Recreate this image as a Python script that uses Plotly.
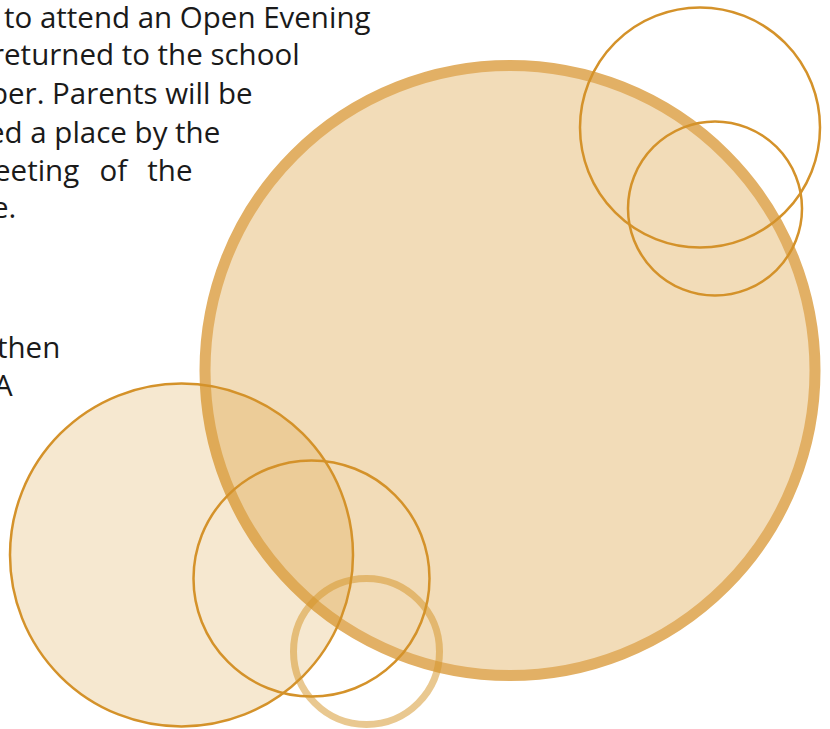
import plotly.graph_objects as go

# ---- data (pixel-space coordinates) ----
text_lines = ["to attend an Open Evening", "returned to the school", "ber. Parents will be",
              "ed a place by the", "eeting \u2009 of \u2009 the", "e.", "then", "A"]
text_right = [373, 302, 255, 222, 195, 18, 62, 15]
text_baseline = [27, 64, 103, 142, 180, 217, 357, 395]

circle_names = ["big", "bottom_left", "top_right_large", "top_right_small", "middle_ring", "small_ring"]
circle_cx = [510, 181.5, 700, 715, 311.5, 366.5]
circle_cy = [370.5, 555, 127.5, 208.5, 578.5, 651.5]
circle_r = [305, 171.5, 120, 87, 118, 73]

W, H = 830, 729
FONT = 29.5

styles = {
    "big": dict(fill="#F2DCB8", line="#E2B065", width=11),
    "bottom_left": dict(fill="rgba(212,149,42,0.22)", line="#D4922A", width=2.5),
    "top_right_large": dict(fill="rgba(0,0,0,0)", line="#D4922A", width=2.5),
    "top_right_small": dict(fill="rgba(0,0,0,0)", line="#D4922A", width=2.5),
    "middle_ring": dict(fill="rgba(0,0,0,0)", line="#D4922A", width=2.5),
    "small_ring": dict(fill="rgba(0,0,0,0)", line="rgba(212,149,42,0.52)", width=7),
}

fig = go.Figure()
fig.add_trace(go.Scatter(x=[0, W], y=[0, H], mode="markers", marker=dict(opacity=0),
                         hoverinfo="skip", showlegend=False))

for name, cx, cy, r in zip(circle_names, circle_cx, circle_cy, circle_r):
    st = styles[name]
    fig.add_shape(type="circle", xref="x", yref="y",
                  x0=cx - r, x1=cx + r, y0=cy - r, y1=cy + r,
                  fillcolor=st["fill"], line=dict(color=st["line"], width=st["width"]),
                  layer="above")

for t, xr, yb in zip(text_lines, text_right, text_baseline):
    fig.add_annotation(x=xr, y=yb - 0.36 * FONT, xref="x", yref="y", text=t,
                       showarrow=False, xanchor="right", yanchor="middle",
                       font=dict(family="Open Sans", size=FONT, color="#1a1a1a"))

fig.update_xaxes(range=[0, W], visible=False, fixedrange=True)
fig.update_yaxes(range=[H, 0], visible=False, fixedrange=True)
fig.update_layout(width=W, height=H, autosize=False, margin=dict(l=0, r=0, t=0, b=0),
                  paper_bgcolor="white", plot_bgcolor="white", showlegend=False)

fig.write_html("out.html", config={"displayModeBar": False},
               post_script="document.body.style.margin='0';document.body.style.overflow='hidden';")
